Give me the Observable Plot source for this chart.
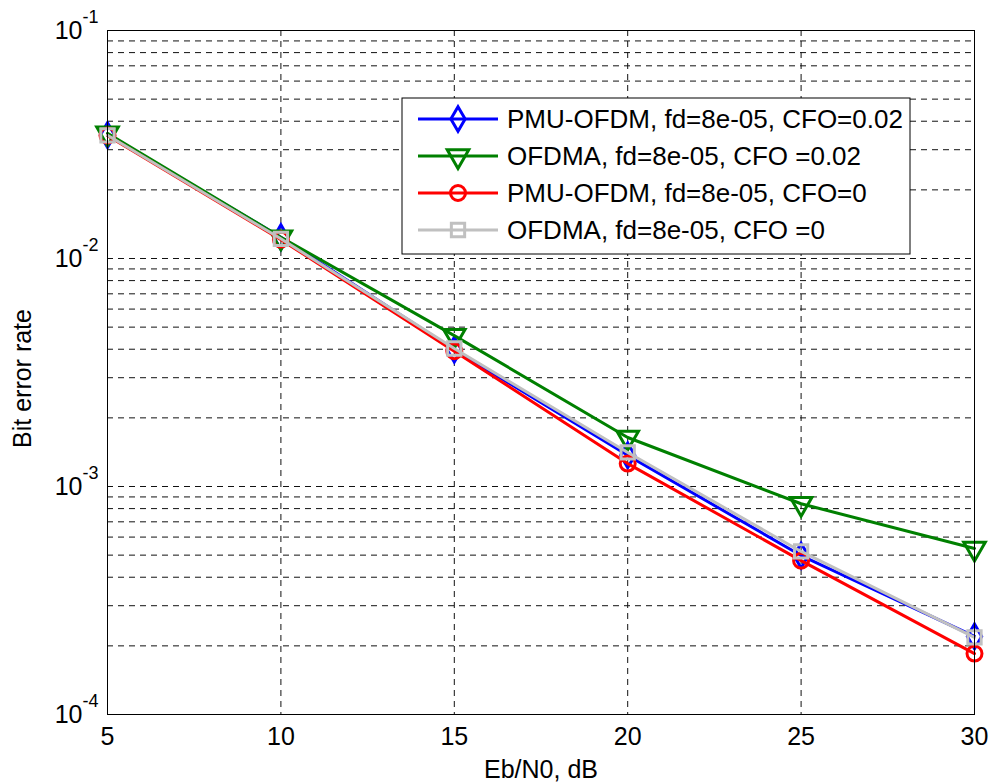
<!DOCTYPE html>
<html>
<head>
<meta charset="utf-8">
<script src="https://cdn.jsdelivr.net/npm/d3@7"></script>
<script src="https://cdn.jsdelivr.net/npm/@observablehq/plot@0.6"></script>
<style>
  html, body { margin: 0; padding: 0; background: white; }
</style>
</head>
<body>
<div id="chart"></div>
<script>
// ---- data ----
const ebn0 = [5, 10, 15, 20, 25, 30];
const pmuCfo002   = [0.0348, 0.0124, 0.00398, 0.00137, 0.000498, 0.000220];
const ofdmaCfo002 = [0.0354, 0.0124, 0.00459, 0.00164, 0.000840, 0.000535];
const pmuCfo0     = [0.0346, 0.0121, 0.00392, 0.00126, 0.000473, 0.000185];
const ofdmaCfo0   = [0.0347, 0.0122, 0.00403, 0.00141, 0.000519, 0.000218];

const seriesNames = [
  "PMU-OFDM, fd=8e-05, CFO=0.02",
  "OFDMA, fd=8e-05, CFO =0.02",
  "PMU-OFDM, fd=8e-05, CFO=0",
  "OFDMA, fd=8e-05, CFO =0"
];
const seriesValues = [pmuCfo002, ofdmaCfo002, pmuCfo0, ofdmaCfo0];
const seriesColors = ["#0000ff", "#008000", "#ff0000", "#c0c0c0"];
const seriesSymbols = ["diamond", "triangle", "circle", "square"];
const seriesRotate = [0, 180, 0, 0];

const xTicks = [5, 10, 15, 20, 25, 30];
const yDecades = [1e-4, 1e-3, 1e-2, 1e-1];
const yDecadeExp = ["-4", "-3", "-2", "-1"];
const xLabel = "Eb/N0, dB";
const yLabel = "Bit error rate";

// grid values (log minor ticks)
const yGrid = [];
for (let e = -4; e <= -2; e++) for (let m = 1; m <= 9; m++) {
  const v = m * Math.pow(10, e);
  if (v > 1e-4 && v < 1e-1) yGrid.push(+v.toPrecision(3));
}
const xGrid = xTicks.filter(d => d > 5 && d < 30);

const font = "'Liberation Sans', Arial, Helvetica, sans-serif";
const gridStyle = {stroke: "#111", strokeWidth: 1, strokeDasharray: "6,5"};

const tables = seriesValues.map((vals, i) => ebn0.map((x, j) => ({x, y: vals[j], s: seriesNames[i]})));

const marks = [
  Plot.ruleX(xGrid, gridStyle),
  Plot.ruleY(yGrid, gridStyle),
];
tables.forEach((t, i) => {
  marks.push(Plot.line(t, {x: "x", y: "y", stroke: seriesColors[i], strokeWidth: 3}));
  marks.push(Plot.dot(t, {x: "x", y: "y", symbol: seriesSymbols[i], rotate: seriesRotate[i],
    r: seriesSymbols[i] === "triangle" ? 8 : 7.5, stroke: seriesColors[i], strokeWidth: 3, fill: "none"}));
});
marks.push(
  Plot.frame({stroke: "black", strokeWidth: 1}),
  Plot.axisX({ticks: xTicks, tickSize: 0, tickPadding: 13, label: null, fontSize: 25, tickFormat: d => String(d)}),
  Plot.text(yDecades, {y: d => d, frameAnchor: "left", text: () => "10", textAnchor: "end", dx: -25, fontSize: 25, lineAnchor: "middle"}),
  Plot.text(yDecades, {y: d => d, frameAnchor: "left", text: (d, i) => yDecadeExp[i], textAnchor: "start", dx: -25, dy: -13, fontSize: 18, lineAnchor: "middle"}),
  Plot.text([xLabel], {frameAnchor: "bottom", text: d => d, textAnchor: "middle", lineAnchor: "middle", dy: 55, fontSize: 25}),
  Plot.text([yLabel], {frameAnchor: "left", text: d => d, rotate: -90, textAnchor: "middle", dx: -85, dy: 6, fontSize: 25, lineAnchor: "middle"})
);

const chart = Plot.plot({
  width: 990, height: 784,
  marginLeft: 107, marginRight: 16, marginTop: 30, marginBottom: 70,
  x: {domain: [5, 30]},
  y: {type: "log", domain: [1e-4, 1e-1], axis: null},
  style: {fontFamily: font, fontSize: "25px", background: "white", color: "black", overflow: "visible"},
  marks
});
document.getElementById("chart").appendChild(chart);

// ---- legend ----
const svg = d3.select(chart);
const lg = svg.append("g").attr("font-family", font).attr("font-size", 26).attr("text-anchor", "start");
const box = {x: 402, y: 98, w: 508, h: 156};
lg.append("rect").attr("x", box.x).attr("y", box.y).attr("width", box.w).attr("height", box.h)
  .attr("fill", "white").attr("stroke", "black").attr("stroke-width", 1);
const rowY = [119, 156, 193, 230];
const d3sym = {diamond: d3.symbolDiamond, triangle: d3.symbolTriangle, circle: d3.symbolCircle, square: d3.symbolSquare};
seriesNames.forEach((name, i) => {
  const y = rowY[i];
  lg.append("line").attr("x1", 418).attr("x2", 498).attr("y1", y).attr("y2", y)
    .attr("stroke", seriesColors[i]).attr("stroke-width", 3);
  const r = seriesSymbols[i] === "triangle" ? 8 : 7.5;
  lg.append("path").attr("d", d3.symbol(d3sym[seriesSymbols[i]], Math.PI * r * r)())
    .attr("transform", `translate(458,${y}) rotate(${seriesRotate[i]})`)
    .attr("fill", "none").attr("stroke", seriesColors[i]).attr("stroke-width", 3);
  lg.append("text").attr("x", 507).attr("y", y).attr("dy", "0.35em").attr("text-anchor", "start")
    .text(name).attr("fill", "black");
});
</script>
</body>
</html>
